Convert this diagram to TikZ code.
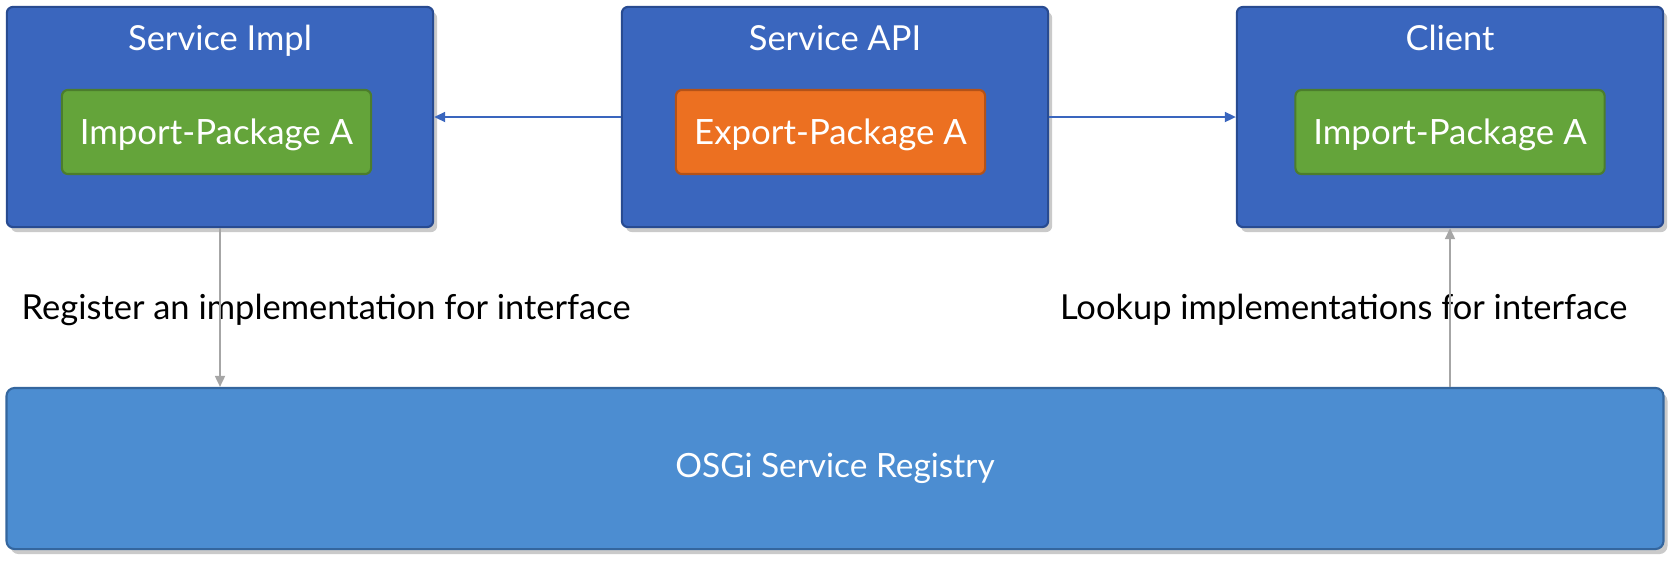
\documentclass[tikz,border=0pt]{standalone}
\usepackage{fontspec}
\setmainfont{Lato}
\usetikzlibrary{shadows,arrows.meta}
\definecolor{boxblue}{RGB}{58,102,190}
\definecolor{boxblueb}{RGB}{40,75,145}
\definecolor{pkggreen}{RGB}{100,164,58}
\definecolor{pkggreenb}{RGB}{76,125,44}
\definecolor{pkgorange}{RGB}{236,112,33}
\definecolor{pkgorangeb}{RGB}{180,82,24}
\definecolor{regblue}{RGB}{76,141,209}
\definecolor{regblueb}{RGB}{52,102,158}
\definecolor{arrgrey}{RGB}{166,166,166}
\tikzset{
  shad/.style={drop shadow={opacity=0.35,shadow xshift=0.04cm,shadow yshift=-0.05cm,fill=black!60}},
  bundle/.style={rectangle,rounded corners=0.06cm,fill=boxblue,draw=boxblueb,line width=0.6pt,minimum width=4.26cm,minimum height=2.20cm,inner sep=0pt,shad},
  pkg/.style={rectangle,rounded corners=0.06cm,line width=0.6pt,minimum width=3.09cm,minimum height=0.84cm,inner sep=0pt,text height=7.1pt,text depth=0pt,text=white,font=\fontsize{9.9}{12}\selectfont},
  title/.style={text=white,font=\fontsize{9.8}{12}\selectfont,inner sep=0pt,text height=7pt,text depth=0pt},
  lbl/.style={text=black,font=\fontsize{9.8}{12}\selectfont,inner sep=0pt},
  bluearr/.style={draw=boxblue,line width=0.5pt,-{Triangle[length=0.11cm,width=0.10cm]}},
  greyarr/.style={draw=arrgrey,line width=0.5pt,-{Triangle[length=0.11cm,width=0.10cm]}}
}
\begin{document}
\begin{tikzpicture}[x=0.01cm,y=-0.01cm]
\useasboundingbox (0,0) rectangle (1674,563);
\node[bundle] (impl) at (220,117) {};
\node[bundle] (api) at (835,117) {};
\node[bundle] (client) at (1450,117) {};
\node[title] (implt) at (220,38) {Service Impl};
\node[title] (apit) at (835,38) {Service API};
\node[title] (clientt) at (1450,38) {Client};
\node[pkg,fill=pkggreen,draw=pkggreenb] (implp) at (216.5,132) {Import-Package A};
\node[pkg,fill=pkgorange,draw=pkgorangeb] (apip) at (830.5,132) {Export-Package A};
\node[pkg,fill=pkggreen,draw=pkggreenb] (clientp) at (1450,132) {Import-Package A};
\node[rectangle,rounded corners=0.08cm,fill=regblue,draw=regblueb,line width=0.6pt,minimum width=16.56cm,minimum height=1.61cm,inner sep=0pt,shad,text=white,font=\fontsize{9.5}{12}\selectfont] (reg) at (835,468.5) {OSGi Service Registry};
\node[lbl,anchor=west] (reglbl) at (21,310) {Register an implementation for interface};
\node[lbl,anchor=east] (looklbl) at (1628,310) {Lookup implementations for interface};
\draw[bluearr] (api.west) -- (impl.east);
\draw[bluearr] (api.east) -- (client.west);
\draw[greyarr] (impl.south) -- (impl.south |- reg.north);
\draw[greyarr] (client.south |- reg.north) -- (client.south);
\end{tikzpicture}
\end{document}
